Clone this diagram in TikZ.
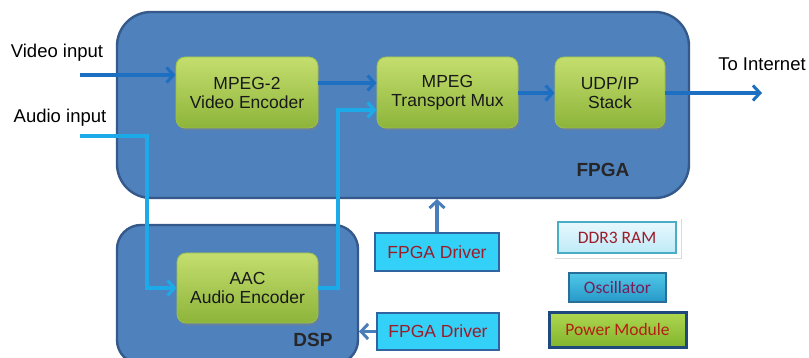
\documentclass[tikz,border=0pt]{standalone}
\usepackage{fontspec}
\setmainfont{Liberation Sans}
\newfontfamily\calib{Carlito}
\usetikzlibrary{arrows.meta,shadows}
\definecolor{fpgafill}{HTML}{4F81BD}
\definecolor{fpgaline}{HTML}{34598A}
\definecolor{greentop}{HTML}{C4DE6E}
\definecolor{greenbot}{HTML}{8DB43A}
\definecolor{greenline}{HTML}{9CBF4A}
\definecolor{vidblue}{HTML}{1D6FC2}
\definecolor{audblue}{HTML}{1CAAE8}
\definecolor{drvfill}{HTML}{33D0F7}
\definecolor{drvline}{HTML}{2F64A0}
\definecolor{drvtext}{HTML}{9B1C2A}
\definecolor{drvarrow}{HTML}{4A7EBB}
\begin{document}
\begin{tikzpicture}[x=1pt,y=-1pt,
  every node/.style={font=\fontsize{17.5}{19}\selectfont, inner sep=0pt},
  container/.style={draw=fpgaline, line width=2.4pt, fill=fpgafill},
  encbox/.style={rounded corners=9pt, draw=greenline, line width=0.8pt, top color=greentop, bottom color=greenbot,
     drop shadow={shadow xshift=1.5pt, shadow yshift=-2.5pt, opacity=0.45}, align=center, text=black!90},
  drvbox/.style={draw=drvline, line width=1.8pt, fill=drvfill, text=drvtext},
  tip/.style={-{Straight Barb[length=7pt,width=15pt,line width=3pt]}},
  vid/.style={draw=vidblue, line width=3.4pt, tip},
  aud/.style={draw=audblue, line width=3.4pt, tip},
  drv/.style={draw=drvarrow, line width=3.4pt, tip},
  lbl/.style={text=black, font=\fontsize{18.5}{20}\selectfont}
]
\useasboundingbox (0,0) rectangle (809,358);
% containers
\path[container, rounded corners=34pt] (117,12) rectangle (689,198);
\node[font=\fontsize{19}{21}\selectfont\bfseries, text=black!85] (fpgalbl) at (603,170) {FPGA};
\path[container, rounded corners=24pt] (117,225) rectangle (358,364);
\node[font=\fontsize{19}{21}\selectfont\bfseries, text=black!85] (dsplbl) at (313,340) {DSP};
% encoder boxes
\node[encbox, minimum width=142pt, minimum height=71pt] (venc) at (247,92.5) {MPEG-2\\Video Encoder};
\node[encbox, minimum width=141pt, minimum height=71pt] (mux) at (447.5,92.5) {MPEG\\Transport Mux};
\node[encbox, minimum width=110pt, minimum height=71pt] (udp) at (610,92.5) {UDP/IP\\Stack};
\node[encbox, minimum width=141pt, minimum height=70pt] (aac) at (247.5,288) {AAC\\Audio Encoder};
% labels
\node[lbl] (vin) at (57,53) {Video input};
\node[lbl] (ain) at (60,118) {Audio input};
\node[lbl] (inet) at (762,64) {To Internet};
\coordinate (vstart) at (80,75);
\coordinate (astart) at (80,136);
\coordinate (inetend) at (762,93);
% connectors
\draw[vid] (vstart) -- (venc.west |- vstart);
\draw[vid] (venc.east |- 0,83) -- (mux.west |- 0,83);
\draw[vid] (mux.east |- 0,93) -- (udp.west |- 0,93);
\draw[vid] (udp.east |- 0,93) -- (inetend);
\draw[aud] (astart) -- (147,136) -- (147,288) -- (aac.west);
\draw[aud] (aac.east) -- (338,288) -- (338,110) -- (mux.west |- 0,110);
% drivers
\node[drvbox, minimum width=124pt, minimum height=38pt] (drv1) at (437,252) {FPGA Driver};
\node[drvbox, minimum width=122pt, minimum height=37pt] (drv2) at (438,331.5) {FPGA Driver};
\coordinate (fpgabot) at (437,199);
\coordinate (dspright) at (359,331.5);
\draw[drv] (drv1.north) -- (fpgabot);
\draw[drv] (drv2.west) -- (dspright);
% peripherals
\fill[white, drop shadow={shadow xshift=1pt, shadow yshift=-1.5pt, opacity=0.3}] (554,218) rectangle (681,258);
\node[draw={rgb,255:red,75;green,172;blue,198}, line width=1.6pt, top color={rgb,255:red,232;green,248;blue,253}, bottom color={rgb,255:red,190;green,234;blue,248},
  minimum width=118pt, minimum height=31pt, text=drvtext, font=\calib\fontsize{17.5}{19}\selectfont] (ddr) at (617,237.5) {DDR3 RAM};
\node[draw={rgb,255:red,40;green,110;blue,150}, line width=1.4pt, top color={rgb,255:red,80;green,200;blue,232}, bottom color={rgb,255:red,38;green,152;blue,200},
  drop shadow={shadow xshift=1pt, shadow yshift=-1.5pt, opacity=0.4},
  minimum width=97pt, minimum height=29pt, text={rgb,255:red,120;green,30;blue,90}, font=\calib\fontsize{17.5}{19}\selectfont] (osc) at (617.5,287.5) {Oscillator};
\node[draw={rgb,255:red,31;green,73;blue,125}, line width=3pt, top color={rgb,255:red,175;green,215;blue,80}, bottom color={rgb,255:red,130;green,180;blue,45},
  minimum width=137pt, minimum height=35pt, text={rgb,255:red,180;green,30;blue,20}, font=\calib\fontsize{17.5}{19}\selectfont] (pwr) at (617.5,329.5) {Power Module};
\end{tikzpicture}
\end{document}
